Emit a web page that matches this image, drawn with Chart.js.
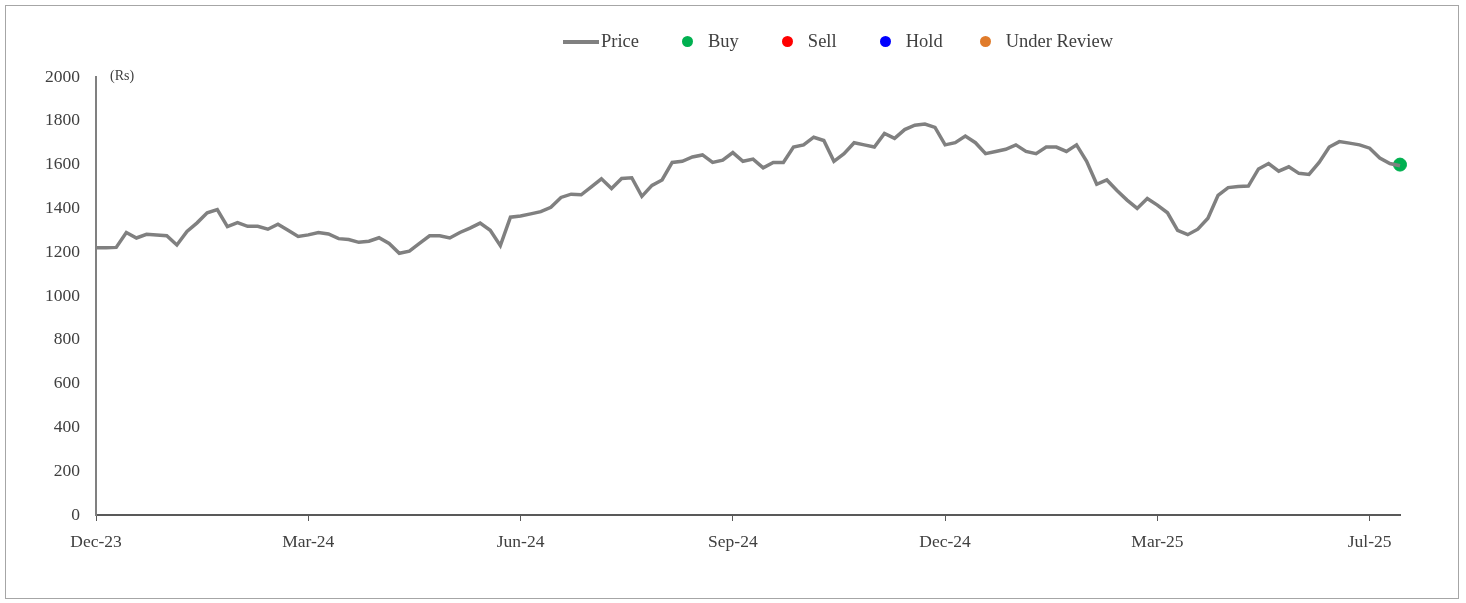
<!DOCTYPE html>
<html>
<head>
<meta charset="utf-8">
<script src="https://cdn.jsdelivr.net/npm/chart.js@4/dist/chart.umd.min.js"></script>
<style>
    body { margin: 0; background: #ffffff; font-family: "Liberation Serif", serif; }
    #wrap { position: relative; width: 1466px; height: 603px; }
    #frame { position: absolute; left: 5px; top: 5px; width: 1452px; height: 592px; border: 1px solid #a6a6a6; }
    #priceChart { position: absolute; left: 0; top: 0; }
    #unit { position: absolute; left: 110px; top: 68px; font-size: 14px; color: #404040; }
    #legend { position: absolute; left: 563px; top: 31px; display: flex; align-items: center; font-size: 18.5px; color: #404040; }
    .item { display: flex; align-items: center; margin-right: 43px; }
    .item:nth-child(4) { margin-right: 37px; }
    .line { width: 36px; height: 4px; background: #808080; margin-right: 2px; }
    .dot { width: 11px; height: 11px; border-radius: 50%; margin-right: 15px; }
</style>
</head>
<body>
<div id="wrap">
    <div id="frame"></div>
    <canvas id="priceChart" width="1466" height="603"></canvas>
    <div id="unit">(Rs)</div>
    <div id="legend"></div>
</div>
<script>
// --- DATA ---
const monthLabels = ["Dec-23", "Mar-24", "Jun-24", "Sep-24", "Dec-24", "Mar-25", "Jul-25"];
const labelStep = 21; // data points between two month labels

const priceValues = [
    1220, 1220, 1222, 1290, 1265, 1282, 1278, 1275, 1233, 1295,
    1334, 1380, 1395, 1317, 1335, 1318, 1318, 1305, 1328, 1300,
    1272, 1279, 1290, 1283, 1262, 1258, 1245, 1250, 1266, 1240,
    1195, 1205, 1240, 1275, 1275, 1265, 1290, 1310, 1333, 1300,
    1230, 1360, 1365, 1375, 1385, 1405, 1450, 1465, 1462, 1498,
    1535, 1491, 1537, 1540, 1455, 1505, 1530, 1610, 1615, 1635,
    1644, 1610, 1620, 1655, 1615, 1625, 1585, 1610, 1610, 1680,
    1690, 1725, 1710, 1615, 1650, 1700, 1690, 1680, 1742, 1720,
    1760, 1780, 1785, 1770, 1690, 1700, 1730, 1700, 1650, 1660,
    1670, 1690, 1660, 1650, 1680, 1680, 1660, 1690, 1615, 1510,
    1530, 1482, 1438, 1400, 1445, 1415, 1380, 1300, 1280, 1305,
    1355, 1460, 1495, 1500, 1502, 1580, 1605, 1570, 1590, 1560,
    1555, 1610, 1680, 1705, 1698, 1690, 1675, 1630, 1605, 1595
];

const buyValue = 1600; // latest recommendation, on the last day

const legendItems = [
    { label: "Price", color: "#808080", type: "line" },
    { label: "Buy", color: "#00b050", type: "dot" },
    { label: "Sell", color: "#ff0000", type: "dot" },
    { label: "Hold", color: "#0000ff", type: "dot" },
    { label: "Under Review", color: "#e07b2a", type: "dot" }
];

// --- LABELS ---
const labels = priceValues.map((v, i) =>
    i % labelStep === 0 ? (monthLabels[i / labelStep] || "") : ""
);

const buyData = priceValues.map((v, i) =>
    i === priceValues.length - 1 ? buyValue : null
);

// --- LEGEND ---
function buildLegend() {
    const legend = document.getElementById("legend");
    legendItems.forEach(item => {
        const el = document.createElement("div");
        el.className = "item";
        const mark = document.createElement("span");
        mark.className = item.type;
        mark.style.background = item.color;
        const text = document.createElement("span");
        text.textContent = item.label;
        el.appendChild(mark);
        el.appendChild(text);
        legend.appendChild(el);
    });
}

// --- CHART ---
function createChart() {
    const ctx = document.getElementById("priceChart");
    const tickFont = { family: "'Liberation Serif', serif", size: 17.5 };

    new Chart(ctx, {
        type: "line",
        data: {
            labels: labels,
            datasets: [
                {
                    label: "Price",
                    data: priceValues,
                    borderColor: "#808080",
                    borderWidth: 3.5,
                    pointRadius: 0,
                    tension: 0
                },
                {
                    label: "Buy",
                    data: buyData,
                    showLine: false,
                    pointRadius: 6.5,
                    pointBackgroundColor: "#00b050",
                    pointBorderColor: "#00b050"
                }
            ]
        },
        options: {
            responsive: false,
            animation: false,
            layout: { padding: { top: 77, right: 66, left: 0, bottom: 0 } },
            plugins: {
                legend: { display: false },
                tooltip: { enabled: false }
            },
            scales: {
                x: {
                    offset: false,
                    border: { display: true, color: "#595959", width: 2 },
                    grid: {
                        drawOnChartArea: false,
                        drawTicks: true,
                        tickLength: 6,
                        color: c => labels[c.index] ? "#595959" : "rgba(0,0,0,0)"
                    },
                    ticks: {
                        autoSkip: false,
                        maxRotation: 0,
                        minRotation: 0,
                        padding: 11,
                        color: "#404040",
                        font: tickFont
                    },
                    afterFit: s => { s.height = 88; }
                },
                y: {
                    min: 0,
                    max: 2000,
                    border: { display: true, color: "#808080", width: 2 },
                    grid: { display: false },
                    ticks: {
                        stepSize: 200,
                        padding: 8,
                        color: "#404040",
                        font: tickFont,
                        callback: v => String(v)
                    },
                    afterFit: s => { s.width = 96; }
                }
            }
        }
    });
}

// --- INIT ---
buildLegend();
createChart();
</script>
</body>
</html>
